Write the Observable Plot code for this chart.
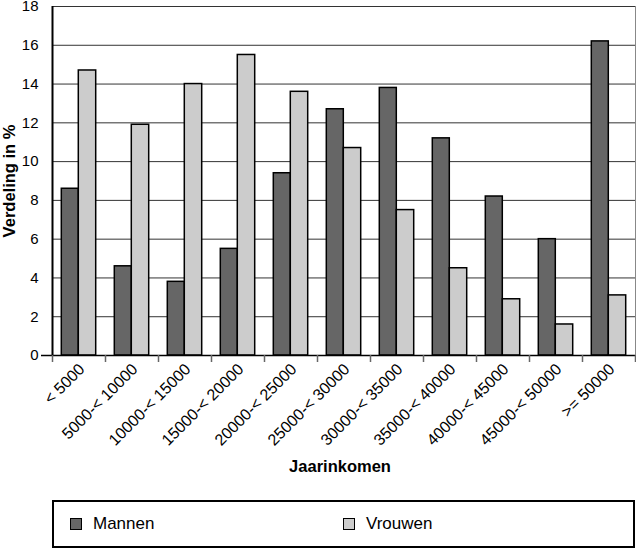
<!DOCTYPE html>
<html><head><meta charset="utf-8">
<script src="https://cdn.jsdelivr.net/npm/d3@7"></script>
<script src="https://cdn.jsdelivr.net/npm/@observablehq/plot@0.6"></script>
<style>
body{margin:0;background:#fff;font-family:"Liberation Sans",Arial,sans-serif;}
#wrap{position:relative;width:636px;height:550px;}
#legend{position:absolute;left:52px;top:500px;width:579px;height:44px;border:2px solid #000;font-size:17px;color:#000;}
.item{position:absolute;top:0;height:44px;display:flex;align-items:center;}
.sw{width:10px;height:10px;border:1.5px solid #000;margin-right:11px;}
</style></head><body>
<div id="wrap"><div id="chart"></div>
<div id="legend"></div></div>
<script>
const categories = ["< 5000","5000-< 10000","10000-< 15000","15000-< 20000","20000-< 25000","25000-< 30000","30000-< 35000","35000-< 40000","40000-< 45000","45000-< 50000",">= 50000"];
const mannen = [8.6,4.6,3.8,5.5,9.4,12.7,13.8,11.2,8.2,6.0,16.2];
const vrouwen = [14.7,11.9,14.0,15.5,13.6,10.7,7.5,4.5,2.9,1.6,3.1];
const yTicks = [0,2,4,6,8,10,12,14,16,18];
const series = ["Mannen","Vrouwen"];
const colors = ["#666666","#cccccc"];
const xTitle = "Jaarinkomen";
const yTitle = "Verdeling in %";

const n = categories.length;
const W = 636, H = 490;
const mL = 52, mR = 1, mT = 6, mB = H - 355;
const bw = (W - mL - mR) / n;
const rows = categories.map((c, i) => ({i, cat: c, m: mannen[i], v: vrouwen[i]}));

const chart = Plot.plot({
  width: W, height: H,
  marginLeft: mL, marginRight: mR, marginTop: mT, marginBottom: mB,
  style: {fontFamily: '"Liberation Sans", Arial, sans-serif', fontSize: "14px", color: "#000", background: "#fff"},
  x: {domain: [0, n], label: null},
  y: {domain: [0, 18], label: null},
  color: {domain: series, range: colors},
  marks: [
    Plot.ruleY(yTicks.slice(1), {stroke: "#333", strokeWidth: 1}),
    Plot.ruleX([n], {stroke: "#888", strokeWidth: 1}),
    Plot.rectY(rows, {x1: d => d.i, x2: d => d.i + 1, y: "m", fill: () => series[0], stroke: "#000", strokeWidth: 1.5, insetLeft: 9.3, insetRight: bw - 26.3}),
    Plot.rectY(rows, {x1: d => d.i, x2: d => d.i + 1, y: "v", fill: () => series[1], stroke: "#000", strokeWidth: 1.5, insetLeft: 26.3, insetRight: bw - 43.7}),
    Plot.ruleY([0], {stroke: "#000", strokeWidth: 1.5, insetLeft: -11}),
    Plot.ruleX([0], {stroke: "#000", strokeWidth: 2}),
    Plot.axisY(yTicks, {tickSize: 0, tickPadding: 14, fontSize: 15, label: null}),
    Plot.axisX(d3.range(n + 1), {tickSize: 7, stroke: "#666", strokeWidth: 1.5, tickFormat: () => "", label: null}),
    Plot.axisX(d3.range(n).map(i => i + 0.5), {tickSize: 0, tickPadding: 11, tickRotate: -45, fontSize: 16, tickFormat: d => categories[Math.round(d - 0.5)], label: null, dx: 3}),
    Plot.text([xTitle], {frameAnchor: "bottom", dy: 116, dx: -4, fontWeight: "bold", fontSize: 16.5}),
    Plot.text([yTitle], {frameAnchor: "left", textAnchor: "middle", rotate: -90, dx: -43, fontWeight: "bold", fontSize: 16.5})
  ]
});
document.getElementById("chart").appendChild(chart);

const legend = document.getElementById("legend");
const lx = [16, 289];
series.forEach((s, k) => {
  const it = document.createElement("div");
  it.className = "item";
  it.style.left = lx[k] + "px";
  const sw = document.createElement("div");
  sw.className = "sw";
  sw.style.background = colors[k];
  it.appendChild(sw);
  const t = document.createElement("span");
  t.textContent = s;
  it.appendChild(t);
  legend.appendChild(it);
});
</script>
</body></html>
